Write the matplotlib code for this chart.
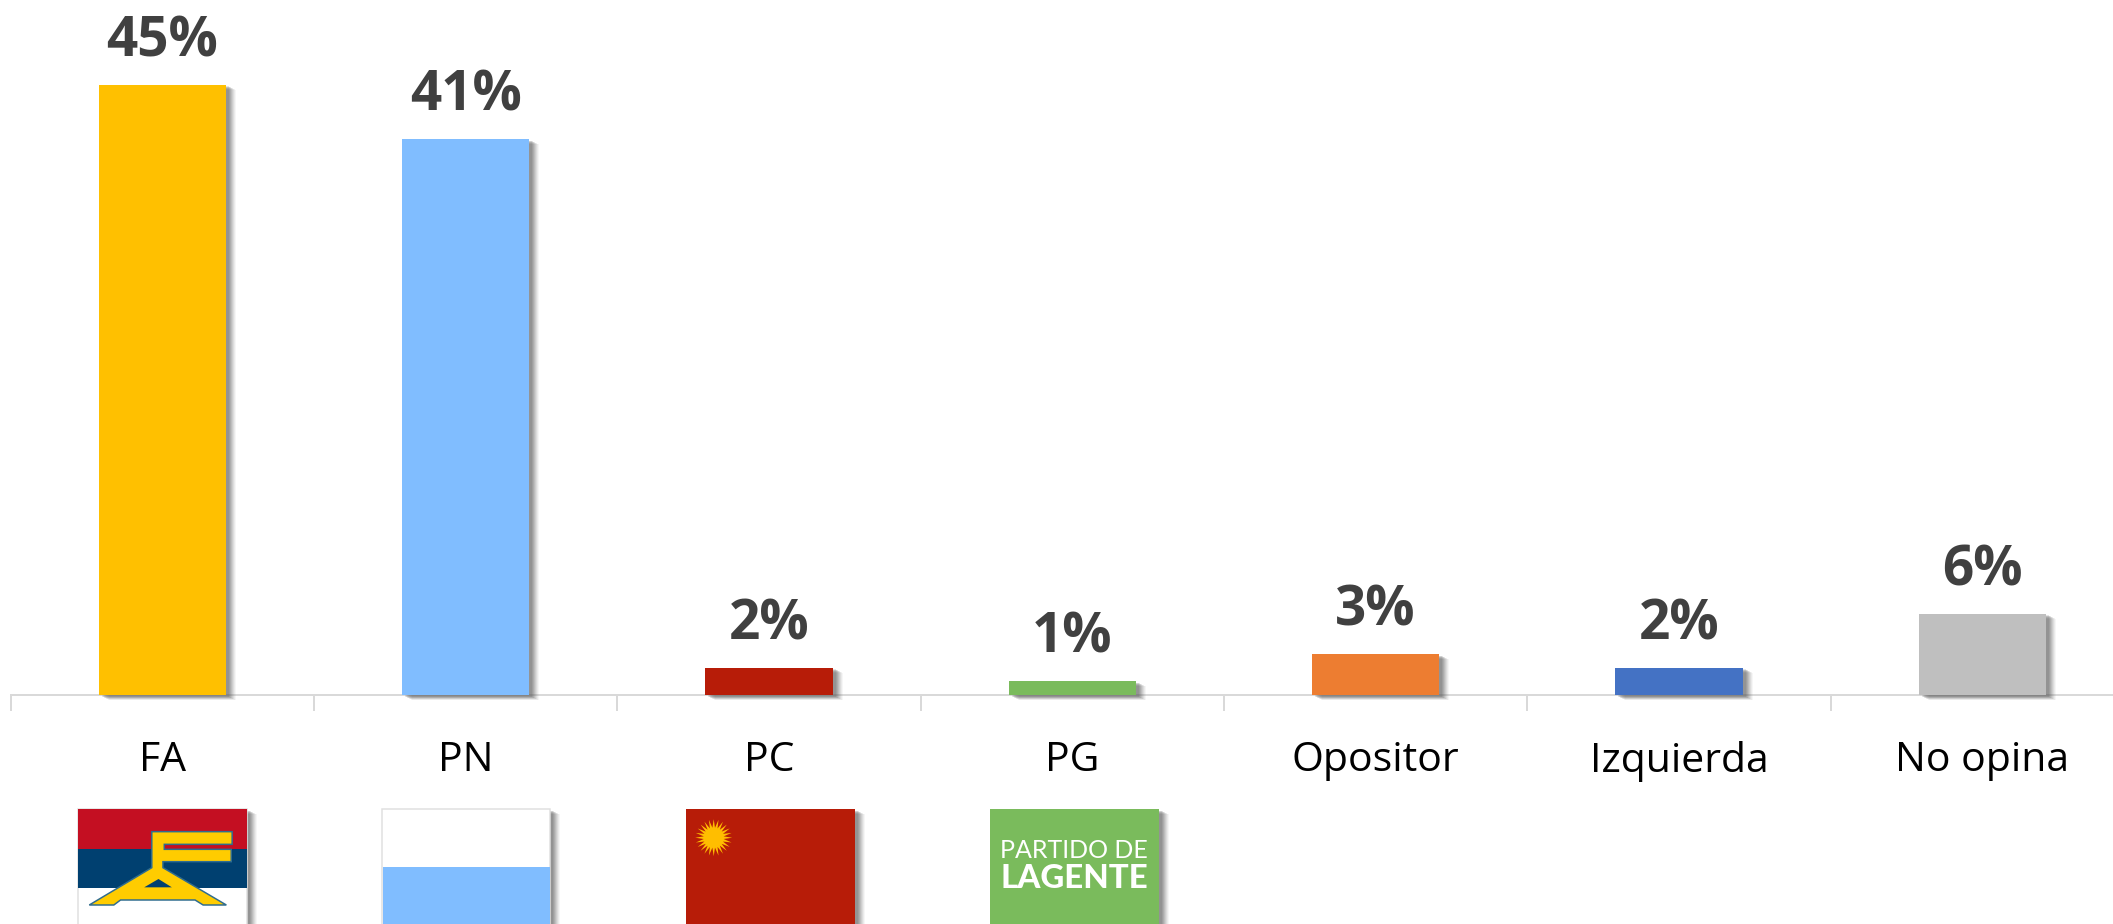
import numpy as np
import matplotlib
matplotlib.use("Agg")
import matplotlib.pyplot as plt
import matplotlib.patheffects as pe
from matplotlib.patches import Rectangle, Polygon

categories = ["FA", "PN", "PC", "PG", "Opositor", "Izquierda", "No opina"]
values = [45, 41, 2, 1, 3, 2, 6]
bar_colors = ["#FFC000", "#80BDFF", "#B71C08", "#7ABB5C", "#ED7D31", "#4472C4", "#BFBFBF"]

W, H = 2113, 924
PX = 72 / 100  # one pixel in points at dpi 100

plt.rcParams["font.family"] = ["Open Sans", "DejaVu Sans"]


def soft_shadow():
    # stacked shadows give the blurred office-style edge
    effects = []
    for off, alpha in [(10, 0.05), (9, 0.07), (8, 0.09), (7, 0.11), (6, 0.13), (5, 0.15), (4, 0.15), (3, 0.15)]:
        effects.append(pe.SimplePatchShadow(offset=(off * PX, -off * PX * 0.5),
                                            shadow_rgbFace="#555555", alpha=alpha, rho=1))
    effects.append(pe.Normal())
    return effects


fig = plt.figure(figsize=(W / 100, H / 100), dpi=100)
ax = fig.add_axes([0, 0, 1, 1])

x = np.arange(len(categories))
bars = ax.bar(x, values, width=0.42, color=bar_colors, zorder=3)
for b in bars:
    b.set_path_effects(soft_shadow())

for xi, v in zip(x, values):
    ax.text(xi, v + 1.15, f"{v}%", ha="center", va="bottom", fontsize=39.5,
            fontweight="bold", color="#404040", zorder=4)

for s in ["top", "left", "right"]:
    ax.spines[s].set_visible(False)
ax.spines["bottom"].set_position(("data", 0))
ax.spines["bottom"].set_bounds(-0.5, len(categories) - 0.5)
ax.spines["bottom"].set_color("#D9D9D9")
ax.spines["bottom"].set_linewidth(2 * PX)
ax.spines["bottom"].set_zorder(2)
ax.set_yticks([])
ax.set_xticks(x)
ax.set_xticklabels(categories, fontsize=29.5, color="#000000")
ax.tick_params(axis="x", which="major", length=0, pad=33)
ax.set_xticks(np.arange(len(categories) + 1) - 0.5, minor=True)
ax.tick_params(axis="x", which="minor", length=16 * PX, width=2 * PX, color="#D9D9D9")

# scale: 303.3 px per category, 13.556 px per percent, zero line at y=695
# set after the ticks, the last minor tick is off the picture
x_step = 303.3
y_step = 13.556
ax.set_xlim(-162.5 / x_step, (W - 162.5) / x_step)
ax.set_ylim(-(H - 695) / y_step, 695 / y_step)

# party logos, in pixel coordinates of the picture
logo = fig.add_axes([0, 0, 1, 1], facecolor="none")
logo.set_xlim(0, W)
logo.set_ylim(H, 0)
logo.axis("off")

TOP = 809


def logo_box(left, right, color, edge=None):
    r = Rectangle((left, TOP), right - left, H + 20 - TOP, facecolor=color,
                  edgecolor=edge if edge else "none", linewidth=1.5 * PX)
    r.set_path_effects(soft_shadow())
    logo.add_patch(r)


def band(left, right, y0, y1, color):
    logo.add_patch(Rectangle((left, y0), right - left, y1 - y0, facecolor=color, edgecolor="none"))


# FA
logo_box(78, 247, "#FFFFFF", "#E0E0E0")
band(78, 247, TOP, 849, "#C40F22")
band(78, 247, 849, 888, "#004070")
fa_shape = [(340, 575), (520, 575), (520, 613), (368, 613), (368, 628), (518, 628), (518, 665),
            (365, 665), (365, 683), (507, 795), (455, 795), (437, 780), (270, 780), (255, 795),
            (200, 795), (340, 683)]
fa_hole = [(355, 717), (385, 742), (323, 742)]
to_px = lambda pts: [(px / 2.24, 640 + py / 3) for px, py in pts]
logo.add_patch(Polygon(to_px(fa_shape), facecolor="#FFCC00", edgecolor="#2F6C8F", linewidth=1.5 * PX))
logo.add_patch(Polygon(to_px(fa_hole), facecolor="#004070", edgecolor="none"))

# PN
logo_box(382, 550, "#FFFFFF", "#E0E0E0")
band(382.5, 549.5, 867, H + 20, "#80BDFF")

# PC
logo_box(685.5, 855, "#B71C08")
angles = np.linspace(0, 2 * np.pi, 48, endpoint=False)
radii = np.where(np.arange(48) % 2 == 0, 18.5, 10)
logo.add_patch(Polygon(np.column_stack([713.7 + radii * np.cos(angles), 837.7 + radii * np.sin(angles)]),
                       facecolor="#FFBE00", edgecolor="none"))

# PG
logo_box(989.5, 1159, "#7ABB5C")
logo.text(1074, 850, "PARTIDO DE", color="white", fontsize=18, family="Lato",
          fontweight="normal", ha="center", va="center")
logo.text(1074, 878, "LAGENTE", color="white", fontsize=23.8, family="Lato",
          fontweight="black", ha="center", va="center")

fig.savefig("out.png", dpi=100)
